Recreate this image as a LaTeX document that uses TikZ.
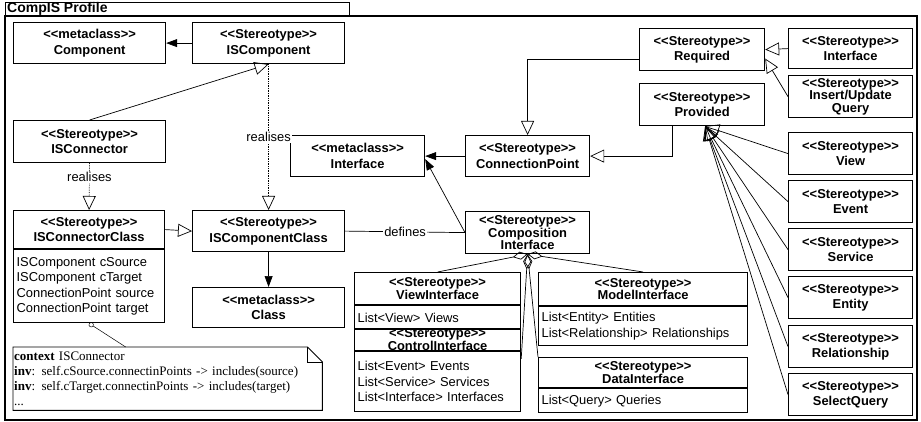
\documentclass[tikz,border=0pt]{standalone}
\usepackage{fontspec}
\setmainfont{Liberation Sans}
\newfontfamily\notefont{Liberation Serif}
\usetikzlibrary{positioning}
\usetikzlibrary{arrows.meta}
\newcommand{\umlsize}{\fontsize{12.9}{15.5}\selectfont}
\newcommand{\stereo}[1]{<\kern0pt<#1>\kern0pt>}
\newcommand{\umlbox}[7][]{ % Takes extra style, node name, left x, top y, width, height, box text
    \node [classbox, #1, minimum width=#5, minimum height=#6] (#2) at (#3, #4) {#7};
}
\tikzset{
    classbox/.style={draw, line width=1.2pt, anchor=north west, align=center, inner sep=1pt, font=\umlsize\bfseries},
    tight/.style={inner ysep=0pt, font=\fontsize{12.9}{12.5}\selectfont\bfseries},
    attrbox/.style={draw, line width=1.2pt, align=left, inner xsep=3pt, inner ysep=1pt, font=\umlsize},
    generalise/.style={-{Triangle[open,length=14pt,width=13pt]}, line width=0.7pt},
    realise/.style={generalise, densely dotted},
    assoc/.style={-{Triangle[length=11pt,width=8pt]}, line width=0.7pt},
    aggr/.style={{Diamond[open,length=15pt,width=8pt]}-, line width=0.7pt},
    linklabel/.style={fill=white, inner sep=1pt, font=\umlsize}
}

\begin{document}
\begin{tikzpicture}[x=1pt, y=-1pt]
    \useasboundingbox (0,0) rectangle (921,422);

    % Profile frame
    \draw[line width=1.2pt] (5,16) rectangle (917,420);
    \draw[line width=0.9pt] (5,2) rectangle (349,16);
    \node[anchor=west, inner sep=0pt, font=\fontsize{14}{15}\selectfont\bfseries] (ProfileTitle) at (7,9) {CompIS Profile};

    % Components and connectors
    \umlbox{Component}{13}{22}{152}{41}{\stereo{metaclass}\\Component}
    \umlbox{ISComponent}{192}{22}{152}{41}{\stereo{Stereotype}\\ISComponent}
    \umlbox{ISConnector}{13}{120}{152}{42}{\stereo{Stereotype}\\ISConnector}
    \umlbox{ISConnectorClass}{13}{210}{151}{38}{\stereo{Stereotype}\\ISConnectorClass}
    \node[attrbox, text width=145, minimum height=73, below=0pt of ISConnectorClass] (ISConnectorClassAttr)
        {ISComponent cSource\\ISComponent cTarget\\ConnectionPoint source\\ConnectionPoint target};
    \umlbox{ISComponentClass}{192}{210}{152}{41}{\stereo{Stereotype}\\ISComponentClass}
    \umlbox{Class}{192}{287}{152}{40}{\stereo{metaclass}\\Class}

    % Interfaces
    \umlbox{Interface}{290}{135}{134}{41}{\stereo{metaclass}\\Interface}
    \umlbox{ConnectionPoint}{465}{135}{124}{41}{\stereo{Stereotype}\\ConnectionPoint}
    \umlbox[tight]{Composition}{465}{211}{124}{42}{\stereo{Stereotype}\\Composition\\Interface}
    \umlbox{Required}{639}{28}{125}{42}{\stereo{Stereotype}\\Required}
    \umlbox{Provided}{639}{83}{125}{42}{\stereo{Stereotype}\\Provided}

    % Interface kinds
    \umlbox{InterfaceSt}{788}{28}{124}{40}{\stereo{Stereotype}\\Interface}
    \umlbox[tight]{InsertQuery}{788}{75}{124}{42}{\stereo{Stereotype}\\Insert/Update\\Query}
    \umlbox{View}{788}{132}{124}{42}{\stereo{Stereotype}\\View}
    \umlbox{Event}{788}{180}{124}{42}{\stereo{Stereotype}\\Event}
    \umlbox{Service}{788}{228}{124}{42}{\stereo{Stereotype}\\Service}
    \umlbox{Entity}{788}{276}{124}{42}{\stereo{Stereotype}\\Entity}
    \umlbox{Relationship}{788}{325}{124}{42}{\stereo{Stereotype}\\Relationship}
    \umlbox{SelectQuery}{788}{373}{124}{42}{\stereo{Stereotype}\\SelectQuery}

    % Parts of the composition interface
    \umlbox[tight]{ViewInterface}{354}{272}{166}{32}{\stereo{Stereotype}\\ViewInterface}
    \node[attrbox, text width=160, minimum height=24, below=0pt of ViewInterface] (ViewInterfaceAttr)
        {List<View> Views};
    \umlbox[tight]{ControlInterface}{354}{328}{166}{21}{\stereo{Stereotype}\\ControlInterface}
    \node[attrbox, text width=160, minimum height=60, below=0pt of ControlInterface] (ControlInterfaceAttr)
        {List<Event> Events\\List<Service> Services\\List<Interface> Interfaces};
    \umlbox[tight]{ModelInterface}{538}{272}{209}{33}{\stereo{Stereotype}\\ModelInterface}
    \node[attrbox, text width=203, minimum height=39, below=0pt of ModelInterface] (ModelInterfaceAttr)
        {List<Entity> Entities\\List<Relationship> Relationships};
    \umlbox[tight]{DataInterface}{538}{357}{209}{30}{\stereo{Stereotype}\\DataInterface}
    \node[attrbox, text width=203, minimum height=24, below=0pt of DataInterface] (DataInterfaceAttr)
        {List<Query> Queries};

    % OCL constraint
    \node[anchor=north west, minimum width=309, minimum height=63, text width=307, inner xsep=1pt,
        align=left, font=\notefont\fontsize{13}{15}\selectfont] (OCLNote) at (13,347)
        {\textbf{context} ISConnector\\
         \textbf{inv}: self.cSource.connectinPoints -> includes(source)\\
         \textbf{inv}: self.cTarget.connectinPoints -> includes(target)\\
         ...};
    \draw[line width=0.9pt] (OCLNote.north west) -- ([xshift=-15pt]OCLNote.north east)
        -- ([yshift=-15pt]OCLNote.north east) -- (OCLNote.south east) -- (OCLNote.south west) -- cycle;
    \draw[line width=0.9pt] ([xshift=-15pt]OCLNote.north east) |- ([yshift=-15pt]OCLNote.north east);
    \draw[{Circle[open,length=5pt]}-, line width=0.5pt] (ISConnectorClassAttr.south) -- ([xshift=-42pt]OCLNote.north);

    % Links
    \draw[assoc] (ISComponent.west) -- (Component.east);
    \draw[generalise] (ISConnector.north) -- (ISComponent.south);
    \draw[realise] (ISComponent.south) -- node[linklabel] {realises} (ISComponentClass.north);
    \draw[realise] (ISConnector.south) -- node[linklabel, pos=0.3] {realises} (ISConnectorClass.north);
    \draw[generalise] (ISConnectorClass.east) -- (ISComponentClass.west);
    \draw[assoc] (ISComponentClass.south) -- (Class.north);
    \draw[line width=0.7pt] (ISComponentClass.east) -- node[linklabel] {defines} (Composition.west);
    \draw[assoc] (Composition.west) -- ([yshift=-3pt]Interface.east);
    \draw[assoc] (ConnectionPoint.west) -- (Interface.east);
    \draw[generalise] ([yshift=-10pt]Required.west) -| (ConnectionPoint.north);
    \draw[generalise] ([xshift=-30pt]Provided.south) |- (ConnectionPoint.east);
    \draw[generalise] (InterfaceSt.west) -- (Required.east);
    \draw[generalise] (InsertQuery.west) -- ([yshift=-9pt]Required.east);

    % Provided kinds
    \coordinate (ProvidedHub) at ([xshift=3pt]Provided.south);
    \foreach \kind in {View, Event, Service, Entity, Relationship, SelectQuery}
        \draw[generalise] (\kind.west) -- (ProvidedHub);

    % Composition parts
    \draw[aggr] (Composition.south) -- (ViewInterface.north);
    \draw[aggr] (Composition.south) -- (ModelInterface.north);
    \draw[aggr] (Composition.south) -- ([yshift=-8pt]ControlInterfaceAttr.north east);
    \draw[aggr] (Composition.south) -- (DataInterface.north west);
\end{tikzpicture}
\end{document}
